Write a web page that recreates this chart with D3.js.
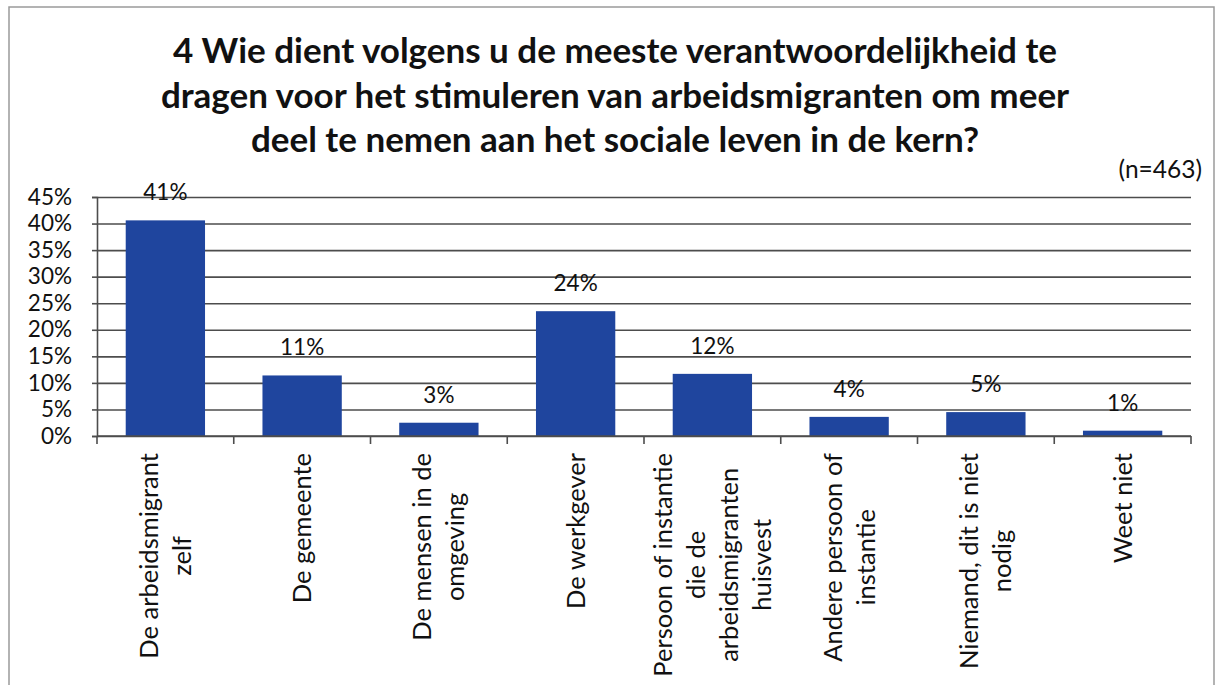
<!doctype html>
<html lang='nl'>
  <head>
    <meta charset='utf-8' />
    <style>
      * {
        padding: 0;
        margin: 0;
      }

      body {
        background: #fff;
        font-family: Lato, 'Open Sans', sans-serif;
      }
    </style>
    <title>Verantwoordelijkheid arbeidsmigranten</title>
  </head>
  <body>
    <div id='container'></div>
    <script src='https://d3js.org/d3.v7.min.js'></script>
    <script type='text/javascript'>

      var titleLines = [
        '4 Wie dient volgens u de meeste verantwoordelijkheid te',
        'dragen voor het stimuleren van arbeidsmigranten om meer',
        'deel te nemen aan het sociale leven in de kern?'
      ];
      var note = '(n=463)';

      var categories = [
        'De arbeidsmigrant\nzelf',
        'De gemeente',
        'De mensen in de\nomgeving',
        'De werkgever',
        'Persoon of instantie\ndie de\narbeidsmigranten\nhuisvest',
        'Andere persoon of\ninstantie',
        'Niemand, dit is niet\nnodig',
        'Weet niet'
      ];
      var values = [40.6, 11.4, 2.5, 23.5, 11.7, 3.6, 4.5, 1.0];
      var yTicks = [0, 5, 10, 15, 20, 25, 30, 35, 40, 45];

      const svg_width = 1217,
            svg_height = 685;

      // plot area
      var plotLeft = 97, plotRight = 1191, plotTop = 197, plotBottom = 436;

      var svg = d3.select('#container').append('svg')
          .attr('width', svg_width)
          .attr('height', svg_height)
          .style('display', 'block');

      // frame of the chart
      svg.append('path')
        .attr('d', 'M9,' + svg_height + 'V7H1214V' + svg_height)
        .attr('fill', 'none')
        .attr('stroke', '#9a9a9a')
        .attr('stroke-width', 1.5);

      svg.append('text')
        .attr('text-anchor', 'middle')
        .attr('font-weight', 700)
        .attr('font-size', 35)
        .attr('fill', '#111')
        .selectAll('tspan')
        .data(titleLines)
        .enter()
        .append('tspan')
        .attr('x', 615)
        .attr('y', function(d, i) { return 63 + i*44.5; })
        .text(function(d) { return d; });

      svg.append('text')
        .attr('x', 1202)
        .attr('y', 178)
        .attr('text-anchor', 'end')
        .attr('font-size', 24.5)
        .attr('fill', '#111')
        .text(note);

      var x = d3.scaleBand()
          .domain(categories)
          .range([plotLeft, plotRight])
          .paddingInner(0.42)
          .paddingOuter(0.21);

      var y = d3.scaleLinear()
          .domain([0, 45])
          .range([plotBottom, plotTop]);

      // gridlines
      var grid = svg.append('g')
          .attr('transform', 'translate(' + plotLeft + ',0)')
          .call(d3.axisLeft(y).tickValues(yTicks).tickSize(-(plotRight - plotLeft)).tickFormat(''));
      grid.select('.domain').remove();
      grid.selectAll('line')
        .attr('stroke', '#4d4d4d')
        .attr('stroke-width', 1.6);

      // y axis
      var yAxis = svg.append('g')
          .attr('transform', 'translate(' + plotLeft + ',0)')
          .call(d3.axisLeft(y).tickValues(yTicks).tickSize(5).tickPadding(20)
            .tickFormat(function(d) { return d + '%'; }));
      yAxis.select('.domain').attr('stroke', '#4d4d4d').attr('stroke-width', 1.6);
      yAxis.selectAll('line').attr('stroke', '#4d4d4d').attr('stroke-width', 1.6);
      yAxis.selectAll('text')
        .attr('font-family', 'Lato, sans-serif')
        .attr('font-size', 22.5)
        .attr('fill', '#111');

      // bars
      svg.selectAll('rect.bar')
        .data(values)
        .enter()
        .append('rect')
        .attr('class', 'bar')
        .attr('x', function(d, i) { return x(categories[i]); })
        .attr('y', function(d) { return y(d); })
        .attr('width', x.bandwidth())
        .attr('height', function(d) { return y(0) - y(d); })
        .attr('fill', '#1f459e');

      // value labels
      svg.selectAll('text.value')
        .data(values)
        .enter()
        .append('text')
        .attr('class', 'value')
        .attr('x', function(d, i) { return x(categories[i]) + x.bandwidth()/2; })
        .attr('y', function(d) { return y(d) - 20; })
        .attr('text-anchor', 'middle')
        .attr('font-size', 22.5)
        .attr('fill', '#111')
        .text(function(d) { return Math.round(d) + '%'; });

      // x axis line and ticks on the category borders
      var step = x.step();
      svg.append('line')
        .attr('x1', plotLeft).attr('x2', plotRight)
        .attr('y1', plotBottom).attr('y2', plotBottom)
        .attr('stroke', '#4d4d4d')
        .attr('stroke-width', 1.6);
      svg.selectAll('line.xtick')
        .data(d3.range(categories.length + 1))
        .enter()
        .append('line')
        .attr('class', 'xtick')
        .attr('x1', function(i) { return plotLeft + i*step; })
        .attr('x2', function(i) { return plotLeft + i*step; })
        .attr('y1', plotBottom)
        .attr('y2', plotBottom + 8)
        .attr('stroke', '#4d4d4d')
        .attr('stroke-width', 1.6);

      // rotated category labels, lines centred on the longest one
      var lineH = 33, labelTop = 453;
      var labels = svg.selectAll('g.cat')
        .data(categories)
        .enter()
        .append('g')
        .attr('class', 'cat')
        .attr('transform', function(d) {
          return 'translate(' + (x(d) + x.bandwidth()/2) + ',0) rotate(-90)';
        });

      labels.each(function(d) {
        var g = d3.select(this);
        var lines = d.split('\n');
        var t = g.selectAll('text')
          .data(lines)
          .enter()
          .append('text')
          .attr('text-anchor', 'middle')
          .attr('font-size', 25.5)
          .attr('fill', '#111')
          .attr('y', function(l, i) { return (i - (lines.length - 1)/2)*lineH; })
          .attr('dy', '0.35em')
          .text(function(l) { return l; });
        var maxW = d3.max(t.nodes(), function(n) { return n.getComputedTextLength(); });
        t.attr('x', -(labelTop + maxW/2));
      });
    </script>
  </body>
</html>
